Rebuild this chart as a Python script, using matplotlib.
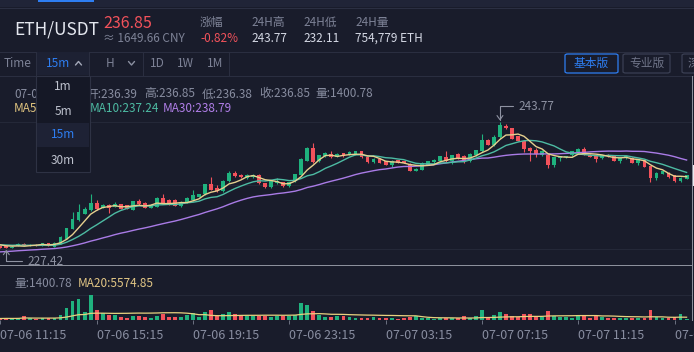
import numpy as np
import pandas as pd
import matplotlib
matplotlib.use("Agg")
import matplotlib.pyplot as plt
from matplotlib.lines import Line2D
from matplotlib.patches import Rectangle, FancyBboxPatch

plt.rcParams['font.family'] = ['Noto Sans CJK SC', 'DejaVu Sans']

# ---------------- data (15m ETH/USDT candles, 07-06 11:15 .. 07-07 15:45) ----------------
opens = [227.67, 227.68, 227.45, 227.76, 228.02, 227.82, 227.86, 227.78, 228.06, 227.60,
         228.02, 228.67, 229.97, 231.05, 231.92, 232.35, 233.34, 232.65, 233.04, 232.78,
         233.13, 233.00, 232.43, 233.52, 233.30, 232.69, 232.78, 233.91, 233.69, 233.69,
         232.95, 233.39, 233.69, 234.12, 234.42, 235.72, 235.20, 234.77, 236.07, 237.15,
         236.93, 236.50, 236.59, 236.85, 235.85, 235.33, 235.85, 235.98, 235.42, 236.07,
         236.93, 238.75, 240.40, 238.66, 239.31, 239.61, 239.27, 239.75, 239.53, 239.53,
         239.96, 239.23, 238.58, 239.01, 238.66, 238.23, 238.84, 238.66, 238.32, 237.45,
         237.58, 238.23, 238.58, 238.66, 239.18, 238.66, 239.61, 239.36, 238.66, 239.44,
         240.05, 241.48, 240.74, 241.78, 243.25, 242.99, 241.91, 241.35, 240.40, 240.14,
         239.44, 239.53, 238.23, 239.10, 239.18, 239.44, 239.87, 240.27, 239.53, 239.31,
         239.10, 239.50, 239.31, 238.75, 239.10, 239.10, 238.45, 238.80, 238.06, 236.50,
         237.07, 237.15, 236.85, 236.07, 236.39]
highs = [227.75, 227.75, 227.70, 228.15, 228.08, 227.95, 227.92, 228.12, 228.12, 228.20,
         228.95, 230.10, 232.13, 233.21, 232.70, 234.42, 233.73, 233.15, 233.10, 233.35,
         233.20, 233.05, 233.60, 233.86, 233.40, 233.15, 234.00, 234.42, 233.75, 233.75,
         233.55, 234.00, 234.99, 234.50, 235.80, 236.59, 235.64, 236.25, 237.45, 237.45,
         237.00, 237.10, 237.00, 237.10, 235.90, 236.15, 236.50, 236.05, 236.05, 237.10,
         239.10, 240.50, 241.05, 239.55, 239.90, 240.05, 239.70, 239.80, 239.96, 240.05,
         240.00, 239.30, 239.10, 239.10, 238.75, 238.85, 238.90, 238.75, 238.40, 237.80,
         238.55, 238.75, 238.95, 239.40, 239.96, 239.50, 239.70, 239.45, 239.70, 240.20,
         242.21, 241.55, 242.04, 243.77, 243.50, 243.05, 242.00, 241.40, 240.50, 240.40,
         240.15, 239.60, 239.25, 239.40, 239.40, 240.05, 240.35, 240.48, 239.60, 239.40,
         239.50, 239.60, 239.40, 239.20, 239.40, 239.20, 239.00, 238.90, 238.10, 237.25,
         237.45, 237.25, 236.90, 236.60, 236.85]
lows = [227.45, 227.42, 227.43, 227.70, 227.78, 227.75, 227.74, 227.72, 227.65, 227.55,
        227.98, 228.60, 229.90, 230.95, 231.85, 232.30, 232.40, 232.60, 232.00, 232.70,
        232.50, 232.45, 232.35, 233.05, 232.60, 232.60, 232.70, 233.15, 233.05, 232.90,
        232.82, 233.30, 233.60, 234.05, 234.35, 234.90, 234.70, 234.70, 236.00, 236.65,
        236.50, 236.45, 236.50, 235.80, 235.25, 235.25, 235.80, 235.30, 235.35, 236.00,
        236.85, 238.70, 238.50, 238.60, 239.25, 239.15, 239.20, 239.25, 239.45, 239.45,
        239.15, 238.50, 238.50, 238.40, 238.15, 237.97, 238.40, 238.40, 237.40, 237.37,
        237.50, 238.15, 238.50, 238.60, 238.60, 238.32, 239.00, 238.45, 238.60, 239.35,
        239.95, 240.75, 240.70, 241.70, 242.82, 241.55, 241.25, 239.88, 238.75, 239.18,
        239.35, 237.80, 237.97, 238.75, 239.10, 239.35, 239.80, 239.45, 239.20, 238.58,
        239.00, 239.25, 238.70, 238.40, 239.00, 238.40, 238.23, 237.90, 235.94, 236.28,
        237.00, 236.55, 236.00, 235.94, 236.38]
closes = [227.50, 227.45, 227.62, 228.02, 227.82, 227.86, 227.80, 228.06, 227.72, 228.15,
          228.89, 230.01, 231.18, 232.05, 232.56, 233.34, 232.48, 233.04, 232.65, 233.21,
          232.56, 232.56, 233.52, 233.13, 232.69, 233.08, 233.91, 233.21, 233.13, 232.95,
          233.47, 233.91, 234.34, 234.42, 235.72, 234.99, 234.77, 236.16, 237.15, 236.72,
          236.59, 236.85, 236.85, 235.85, 235.33, 236.07, 236.15, 235.42, 235.98, 237.02,
          239.01, 240.40, 238.58, 239.44, 239.70, 239.23, 239.61, 239.31, 239.87, 239.96,
          239.23, 238.58, 239.01, 238.45, 238.23, 238.75, 238.45, 238.45, 237.45, 237.71,
          238.45, 238.66, 238.88, 239.31, 238.66, 239.44, 239.10, 238.66, 239.61, 240.14,
          241.48, 240.83, 241.78, 243.34, 242.99, 241.61, 241.35, 240.31, 240.05, 239.61,
          240.05, 238.23, 239.18, 239.31, 239.31, 239.96, 240.27, 239.53, 239.27, 239.01,
          239.44, 239.35, 238.75, 239.10, 239.31, 238.45, 238.93, 237.97, 236.50, 237.15,
          237.37, 236.63, 236.07, 236.50, 236.85]
volumes = [2430, 2910, 2380, 3160, 8020, 2450, 2400, 3160, 3650, 3620,
           10450, 26730, 43740, 48600, 17010, 58320, 22600, 14580, 10450, 10380,
           4860, 4790, 8020, 8050, 4860, 4820, 8020, 12880, 4860, 4900,
           4860, 10450, 14580, 4860, 18710, 22600, 8990, 12880, 17010, 12880,
           10450, 8990, 8020, 8990, 8950, 4860, 8020, 8990, 8020, 10450,
           40580, 34750, 20170, 10450, 4860, 4880, 8020, 8020, 4860, 4830,
           2920, 2900, 4860, 2920, 2430, 2920, 2410, 2450, 4860, 8990,
           2920, 2430, 2400, 2920, 2950, 2430, 2460, 8020, 2920, 8020,
           22600, 3650, 10450, 17010, 12880, 8020, 4860, 12880, 12850, 8020,
           4860, 20170, 8990, 4860, 4880, 4840, 8990, 8950, 2920, 8020,
           4860, 2920, 2900, 2940, 2430, 2920, 2430, 3650, 22600, 4860,
           2920, 2900, 4860, 12880, 1400.78]
# closes of the 29 candles before the visible window (estimated from where the MA lines start)
prev_closes = [226.1, 226.3, 226.2, 226.5, 226.4, 226.6, 226.3, 226.5, 226.7, 226.4,
               226.6, 226.5, 226.8, 226.6, 226.4, 226.7, 226.5, 226.6, 226.5, 226.7,
               227.7, 227.9, 227.8, 228.0, 227.9, 228.1, 227.8, 227.9, 228.0]
tick_labels = ["07-06 11:15", "07-06 15:15", "07-06 19:15", "07-06 23:15",
               "07-07 03:15", "07-07 07:15", "07-07 11:15", "07-07 15:15"]
tick_step = 16

# ---------------- style ----------------
W, H = 694, 352
BG = '#191c2b'
GREEN = '#1fb27e'
RED = '#f2525b'
BLUE = '#2e7ef2'
WHITE = '#e4e7ef'
GRAY = '#7d8296'
LINE = '#2a2e40'
GRID = '#242838'
BORDER = '#8c909c'
C_MA5 = '#e6d08e'
C_MA10 = '#4dbba3'
C_MA30 = '#a97be6'

fig = plt.figure(figsize=(W / 100, H / 100), dpi=100, facecolor=BG)


def fx(x):
    return x / W


def fy(y):
    return 1 - y / H


def hline(x0, x1, y, color, lw=1.0, z=1):
    fig.add_artist(Line2D([fx(x0), fx(x1)], [fy(y), fy(y)], color=color,
                          lw=lw * 0.72, zorder=z, transform=fig.transFigure))


def vline(x, y0, y1, color, lw=1.0, z=1):
    fig.add_artist(Line2D([fx(x), fx(x)], [fy(y0), fy(y1)], color=color,
                          lw=lw * 0.72, zorder=z, transform=fig.transFigure))


def rect(x0, y0, x1, y1, fc, ec='none', lw=0.0, z=1):
    fig.add_artist(Rectangle((fx(x0), fy(y1)), fx(x1) - fx(x0), fy(y0) - fy(y1),
                             facecolor=fc, edgecolor=ec, lw=lw, zorder=z,
                             transform=fig.transFigure))


def txt(x, y, s, color, size=8.5, ha='left', va='center', z=5, **kw):
    fig.text(fx(x), fy(y), s, color=color, fontsize=size, ha=ha, va=va, zorder=z, **kw)


def poly(xs, ys, color, lw=1.4, z=6):
    fig.add_artist(Line2D([fx(v) for v in xs], [fy(v) for v in ys], color=color,
                          lw=lw * 0.72, zorder=z, transform=fig.transFigure,
                          solid_capstyle='round', solid_joinstyle='round'))


# ---------------- top strip + header ----------------
rect(0, 0, W, 7, '#202437', z=1)
rect(38, 0, 94, 2, BLUE, z=2)
hline(0, W, 7.5, '#2b2f42')

txt(14, 30, 'ETH/USDT', WHITE, 12.5)
txt(103, 23, '236.85', RED, 11.5)
txt(103, 38.5, '≈ 1649.66 CNY', GRAY, 8.5)
txt(200, 22.5, '涨幅', GRAY, 8.5)
txt(200, 38.5, '-0.82%', RED, 8.5)
txt(251, 22.5, '24H高', GRAY, 8.5)
txt(251, 38.5, '243.77', '#d5d9e5', 8.5)
txt(303, 22.5, '24H低', GRAY, 8.5)
txt(303, 38.5, '232.11', '#d5d9e5', 8.5)
txt(355, 22.5, '24H量', GRAY, 8.5)
txt(355, 38.5, '754,779 ETH', '#d5d9e5', 8.5)

# ---------------- toolbar ----------------
hline(0, W, 51.5, LINE)
hline(0, W, 75.5, LINE)
rect(36, 52, 89, 75, '#1d2133', z=1)
for xs in (36, 89, 143, 229):
    vline(xs, 52, 75, LINE)
txt(4, 63.5, 'Time', GRAY, 8.5)
txt(46, 63.5, '15m', BLUE, 8.5)
poly([75.5, 78.5, 81.5], [65, 61.5, 65], '#a3a8b8')
txt(106, 63.5, 'H', GRAY, 8.5)
poly([128.5, 131.5, 134.5], [61.5, 65, 61.5], '#8a8fa0')
txt(150, 63.5, '1D', GRAY, 8.5)
txt(177, 63.5, '1W', GRAY, 8.5)
txt(207, 63.5, '1M', GRAY, 8.5)

for (x0, x1, ec, label, tc) in ((565, 618, BLUE, '基本版', BLUE),
                               (623, 670, '#3a3f53', '专业版', '#6f7488'),
                               (682, 730, '#3a3f53', '深色', '#6f7488')):
    fig.add_artist(FancyBboxPatch((fx(x0), fy(73)), fx(x1) - fx(x0), fy(54) - fy(73),
                                  boxstyle='round,pad=0,rounding_size=0.004',
                                  facecolor='none', edgecolor=ec, lw=0.9,
                                  transform=fig.transFigure, zorder=3))
    txt((x0 + x1) / 2 if x1 < W else 688, 63.5, label, tc, 8.5,
        ha='center' if x1 < W else 'left')

# ---------------- info lines (partly hidden behind the dropdown) ----------------
INFO = '#878c9f'
txt(14, 94, '07-0', INFO, 8.5)
txt(86, 94, '开:236.39', INFO, 8.5)
txt(144, 94, '高:236.85', INFO, 8.5)
txt(202, 94, '低:236.38', INFO, 8.5)
txt(259, 94, '收:236.85', INFO, 8.5)
txt(315, 94, '量:1400.78', INFO, 8.5)
txt(14, 108.5, 'MA5', '#e0c47f', 8.5)
txt(90, 108.5, 'MA10:237.24', C_MA10, 8.5)
txt(163, 108.5, 'MA30:238.79', '#b07ee8', 8.5)

# ---------------- grid + borders ----------------
for gy in (121.7, 185.3, 249.3):
    hline(0, 692, gy, GRID, z=0)
hline(0, 692, 295, GRID, z=0)
hline(0, 692, 265.3, BORDER, lw=1.0, z=4)
vline(692.3, 76, 320, BORDER, lw=1.0, z=4)
rect(692.8, 165, 694, 186, '#e8e8ee', z=4)

# ---------------- main candle chart ----------------
n = len(closes)
x = np.arange(n)
o = np.array(opens)
c = np.array(closes)
hi = np.array(highs)
lo = np.array(lows)
up = c >= o
cols = np.where(up, GREEN, RED)

XLIM = (-0.05, 114.9)
ax = fig.add_axes([0, fy(265.3), fx(692), fy(116) - fy(265.3)])
ax.set_facecolor('none')
ax.set_xlim(*XLIM)
ax.set_ylim(225.21, 244.55)
ax.axis('off')

ax.vlines(x, lo, hi, colors=cols, lw=0.8, zorder=2)
ax.bar(x, np.maximum(np.abs(c - o), 0.07), bottom=np.minimum(o, c), width=0.64,
       color=cols, lw=0, zorder=3)

allc = pd.Series(list(prev_closes) + list(closes))
for win, col in ((30, C_MA30), (10, C_MA10), (5, C_MA5)):
    ma = allc.rolling(win, min_periods=1).mean().to_numpy()[-n:]
    ax.plot(x, ma, color=col, lw=1.0, zorder=4)

MK = '#8e92a2'
imax = int(np.argmax(hi))
ax.annotate(f'{hi[imax]:.2f}', xy=(imax, hi[imax]), xytext=(19, 16),
            textcoords='offset pixels', color=MK, fontsize=8.5, va='center', ha='left',
            arrowprops=dict(arrowstyle='->,head_length=0.35,head_width=0.25', color=MK, lw=0.8,
                            connectionstyle='angle,angleA=0,angleB=90,rad=0',
                            shrinkA=2, shrinkB=1), zorder=6)
imin = int(np.argmin(lo))
ax.annotate(f'{lo[imin]:.2f}', xy=(imin, lo[imin]), xytext=(21, -13),
            textcoords='offset pixels', color=MK, fontsize=8.5, va='center', ha='left',
            arrowprops=dict(arrowstyle='->,head_length=0.35,head_width=0.25', color=MK, lw=0.8,
                            connectionstyle='angle,angleA=0,angleB=90,rad=0',
                            shrinkA=2, shrinkB=1), zorder=6, annotation_clip=False)

# ---------------- volume chart ----------------
txt(14, 283.5, '量:1400.78', INFO, 8.5)
txt(78, 283.5, 'MA20:5574.85', '#e2c685', 8.5)

v = np.array(volumes, dtype=float)
axv = fig.add_axes([0, fy(319.5), fx(692), fy(288) - fy(319.5)])
axv.set_facecolor('none')
axv.set_xlim(*XLIM)
axv.set_ylim(0, 76500)
axv.bar(x, v, width=0.64, color=cols, lw=0, zorder=2)
vma = pd.Series(v).rolling(20, min_periods=1).mean().to_numpy()
axv.plot(x, vma, color='#e8d27f', lw=0.9, zorder=3)
for s in axv.spines.values():
    s.set_visible(False)
axv.set_yticks([])
axv.set_xticks(x[::tick_step])
axv.set_xticklabels(tick_labels, ha='left')
axv.tick_params(axis='x', length=3, width=0.7, color='#6d7282', pad=4,
                labelsize=9, labelcolor='#888da0')

# ---------------- timeframe dropdown (overlays the chart) ----------------
rect(36, 75.5, 89.5, 172, '#151826', ec='#2e3244', lw=0.8, z=10)
rect(37, 123, 88.5, 147, '#1e2235', z=11)
for (label, yy, col) in (('1m', 87, '#bfc3cf'), ('5m', 111, '#bfc3cf'),
                          ('15m', 135, BLUE), ('30m', 160, '#bfc3cf')):
    txt(63, yy, label, col, 8.5, ha='center', z=12)

fig.savefig('out.png', dpi=100, facecolor=BG)
